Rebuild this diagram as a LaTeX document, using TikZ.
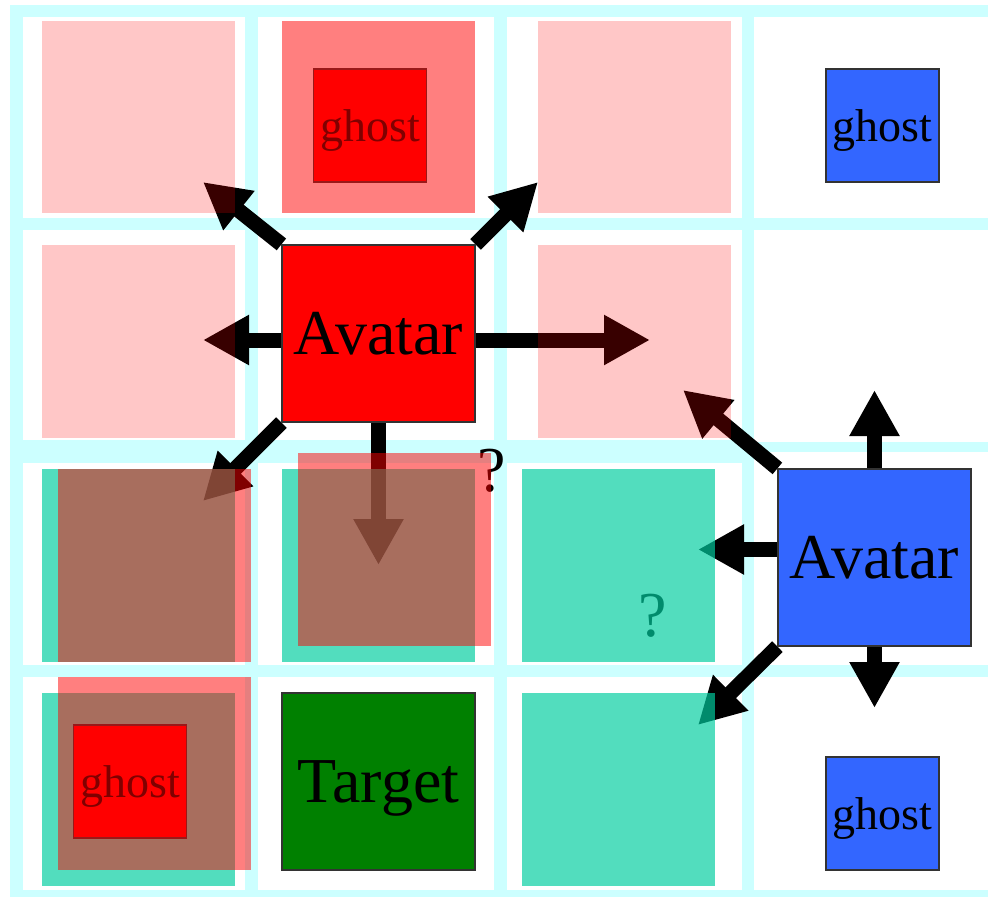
\documentclass[tikz,border=0pt]{standalone}
\usepackage{fontspec}
\setmainfont{Liberation Serif}
\usetikzlibrary{arrows.meta}
\pgfdeclarelayer{bg}\pgfdeclarelayer{under}\pgfdeclarelayer{tealL}\pgfdeclarelayer{ghostL}\pgfdeclarelayer{over}
\pgfsetlayers{bg,under,tealL,ghostL,over,main}
\definecolor{gridcyan}{HTML}{CCFFFF}
\definecolor{avblue}{HTML}{3366FF}
\definecolor{tgreen}{HTML}{008000}
\definecolor{tealc}{RGB}{0,205,160}
\tikzset{
 box/.style={draw=black!80, line width=1.2pt, minimum width=193pt, minimum height=177pt, inner sep=0pt, text depth=0pt, font=\fontsize{64}{64}\selectfont},
 ghostbox/.style={draw=black!80, line width=1.2pt, minimum width=113pt, minimum height=113pt, inner sep=0pt, text depth=0pt, font=\fontsize{46}{46}\selectfont},
 mv/.style={line width=15pt, -{Triangle[length=46pt,width=47pt]}},
 pinkcell/.style={fill=red, fill opacity=0.22},
 salmoncell/.style={fill=red, fill opacity=0.5},
 tealcell/.style={fill=tealc, fill opacity=0.68},
 qmark/.style={font=\fontsize{64}{64}\selectfont, inner sep=0pt},
 whitecell/.style={fill=white},
}
\begin{document}
\begin{tikzpicture}[x=1pt,y=-1pt]
\useasboundingbox (0,0) rectangle (988,897);
% main nodes
\node[box, fill=red] (Ra) at (378.5,333.5) {Avatar};
\node[box, fill=avblue] (Ba) at (874.5,557.5) {Avatar};
\node[box, fill=tgreen] (T) at (378.5,781.5) {Target};
% background grid
\begin{pgfonlayer}{bg}
\fill[gridcyan] (10,5) rectangle (988,897);
\foreach \xa/\xb in {23/245,258/494,507/742}{
  \foreach \ya/\yb in {17/218,230/440,463/665,677/890}{
    \fill[whitecell] (\xa,\ya) rectangle (\xb,\yb);
  }
}
\foreach \ya/\yb in {17/218,230/442,452/665,677/890}{
  \fill[whitecell] (754,\ya) rectangle (988,\yb);
}
\end{pgfonlayer}
% question marks and arrows
\begin{pgfonlayer}{under}
\node[qmark] (q1) at (492,471) {?};
\node[qmark] (q2) at (653,616) {?};
\coordinate (rUL) at (203,182);
\coordinate (rUR) at (538,182);
\coordinate (rL) at (203,340);
\coordinate (rR) at (650,340);
\coordinate (rDL) at (203,501);
\coordinate (rD) at (378.5,565);
\coordinate (bU) at (874.5,390);
\coordinate (bD) at (874.5,708);
\coordinate (bL) at (698,549.5);
\coordinate (bUL) at (683,390);
\coordinate (bDL) at (698,725);
\draw[mv] (Ra.north west) -- (rUL);
\draw[mv] (Ra.north east) -- (rUR);
\draw[mv] (Ra.west |- rL) -- (rL);
\draw[mv] (Ra.east |- rR) -- (rR);
\draw[mv] (Ra.south west) -- (rDL);
\draw[mv] (Ra.south) -- (rD);
\draw[mv] (Ba.north) -- (bU);
\draw[mv] (Ba.south) -- (bD);
\draw[mv] (Ba.west |- bL) -- (bL);
\draw[mv] (Ba.north west) -- (bUL);
\draw[mv] (Ba.south west) -- (bDL);
\end{pgfonlayer}
% teal overlays
\begin{pgfonlayer}{tealL}
\fill[tealcell] (42,469) rectangle (235,662);
\fill[tealcell] (282,469) rectangle (475,662);
\fill[tealcell] (42,693) rectangle (235,886);
\fill[tealcell] (522,469) rectangle (715,662);
\fill[tealcell] (522,693) rectangle (715,886);
\end{pgfonlayer}
% ghosts
\begin{pgfonlayer}{ghostL}
\node[ghostbox, fill=red] (g1) at (370,125.5) {ghost};
\node[ghostbox, fill=avblue] (g2) at (882.5,125.5) {ghost};
\node[ghostbox, fill=avblue] (g3) at (882.5,813.5) {ghost};
\node[ghostbox, fill=red] (g4) at (130,781.5) {ghost};
\end{pgfonlayer}
% red overlays
\begin{pgfonlayer}{over}
\fill[pinkcell] (42,21) rectangle (235,213);
\fill[pinkcell] (42,245) rectangle (235,438);
\fill[pinkcell] (538,21) rectangle (731,213);
\fill[pinkcell] (538,245) rectangle (731,438);
\fill[salmoncell] (282,21) rectangle (475,213);
\fill[salmoncell] (58,469) rectangle (251,662);
\fill[salmoncell] (298,453) rectangle (491,646);
\fill[salmoncell] (58,677) rectangle (251,870);
\end{pgfonlayer}
\end{tikzpicture}
\end{document}
